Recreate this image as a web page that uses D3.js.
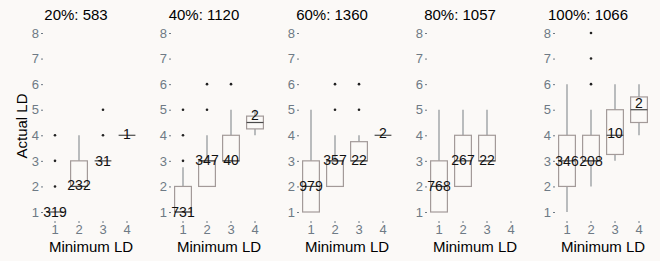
<!DOCTYPE html>
<html>
<head>
<meta charset="utf-8">
<script src="https://cdn.jsdelivr.net/npm/d3@7"></script>
<style>
  body { margin: 0; background: #fbf9f7; }
  svg { display: block; font-family: "Liberation Sans", Arial, sans-serif; }
</style>
</head>
<body>
<div id="my_dataviz"></div>
<script>
// panel titles and category / tick values
var panelTitles = ["20%: 583", "40%: 1120", "60%: 1360", "80%: 1057", "100%: 1066"];
var categories = [1, 2, 3, 4];
var yTicks = [1, 2, 3, 4, 5, 6, 7, 8];

// box statistics, one row per panel, one entry per category (null = no box)
var whiskerLow  = [[1, 2, 3, 4], [1, 2, 3, 4],    [1, 2, 3, 4],    [1, 2, 3, null], [1, 2, 3, 4]];
var q1          = [[1, 2, 3, 4], [1, 2, 3, 4.25], [1, 2, 3, 4],    [1, 2, 3, null], [2, 3, 3.25, 4.5]];
var median      = [[1, 2, 3, 4], [1, 3, 3, 4.5],  [2, 3, 3, 4],    [2, 3, 3, null], [3, 3, 4, 5]];
var q3          = [[1, 3, 3, 4], [2, 3, 4, 4.75], [3, 3, 3.75, 4], [3, 4, 4, null], [4, 4, 5, 5.5]];
var whiskerHigh = [[1, 4, 3, 4], [2.75, 4, 5, 5], [5, 4, 4, 4],    [5, 5, 5, null], [6, 5, 6, 6]];
var counts      = [[319, 232, 31, 1], [731, 347, 40, 2], [979, 357, 22, 2], [768, 267, 22, null], [346, 208, 10, 2]];
var labelAt     = [[1, 2.05, 3, 4.05], [1, 3.05, 3.05, 4.8], [2, 3.05, 3.05, 4.1], [2, 3.05, 3.05, null], [3, 3, 4.1, 5.25]];
var outliers    = [
    [[2, 3, 4], [], [4, 5], []],
    [[3, 4, 5], [5, 6], [6], []],
    [[], [5, 6], [5, 6], []],
    [[], [], [], []],
    [[], [6, 7, 8], [], []]
];

var width = 660, height = 261;
var panelStep = 128, panelLeft = 43, bandWidth = 96;
var tickColor = "#6e7a85";

var svg = d3.select("#my_dataviz")
    .append("svg")
    .attr("width", width)
    .attr("height", height);

var y = d3.scaleLinear()
    .domain([1, 8])
    .range([212, 33]);

// y axis title
svg.append("text")
    .attr("transform", "translate(21,126)rotate(-90)")
    .attr("text-anchor", "middle")
    .attr("dominant-baseline", "central")
    .style("font-size", "15px")
    .text("Actual LD");

panelTitles.forEach(function(title, p) {
    var x0 = panelLeft + p * panelStep;
    var x = d3.scaleBand()
        .domain(categories)
        .range([x0, x0 + bandWidth]);
    var g = svg.append("g");
    var axisX = x0;
    var bw = x.bandwidth() * 0.7;
    var cx = function(c) { return x(c) + x.bandwidth() / 2; };

    // title
    g.append("text")
        .attr("x", x0 + 33)
        .attr("y", 14)
        .attr("text-anchor", "middle")
        .attr("dominant-baseline", "central")
        .style("font-size", "15px")
        .text(title);

    // Y axis
    var yAxis = g.append("g")
        .attr("transform", "translate(" + axisX + ",0)")
        .call(d3.axisLeft(y).tickValues(yTicks).tickSize(2).tickPadding(2).tickFormat(d3.format("d")));
    yAxis.select(".domain").remove();
    yAxis.selectAll("line").attr("stroke", tickColor);
    yAxis.selectAll("text").attr("fill", tickColor).style("font-size", "13px")
        .style("font-family", "'Liberation Sans', Arial, sans-serif");

    // X axis
    var xAxis = g.append("g")
        .attr("transform", "translate(0,221)")
        .call(d3.axisBottom(x).tickSize(2).tickPadding(2));
    xAxis.select(".domain").remove();
    xAxis.selectAll("line").attr("stroke", tickColor);
    xAxis.selectAll("text").attr("fill", tickColor).style("font-size", "13px")
        .style("font-family", "'Liberation Sans', Arial, sans-serif");

    g.append("text")
        .attr("x", x0 + bandWidth / 2)
        .attr("y", 246)
        .attr("text-anchor", "middle")
        .attr("dominant-baseline", "central")
        .style("font-size", "15px")
        .text("Minimum LD");

    categories.forEach(function(c, i) {
        if (median[p][i] === null) return;
        var xc = cx(c);
        // whiskers
        g.append("line")
            .attr("x1", xc).attr("x2", xc)
            .attr("y1", y(q3[p][i])).attr("y2", y(whiskerHigh[p][i]))
            .attr("stroke", "#8e9296").attr("stroke-width", 1.2);
        g.append("line")
            .attr("x1", xc).attr("x2", xc)
            .attr("y1", y(q1[p][i])).attr("y2", y(whiskerLow[p][i]))
            .attr("stroke", "#8e9296").attr("stroke-width", 1.2);
        // box
        g.append("rect")
            .attr("x", xc - bw / 2)
            .attr("width", bw)
            .attr("y", y(q3[p][i]))
            .attr("height", y(q1[p][i]) - y(q3[p][i]))
            .attr("fill", "none")
            .attr("stroke", "#a39a99")
            .attr("stroke-width", 1.2);
        // median
        g.append("line")
            .attr("x1", xc - bw / 2).attr("x2", xc + bw / 2)
            .attr("y1", y(median[p][i])).attr("y2", y(median[p][i]))
            .attr("stroke", "#4a4a4a").attr("stroke-width", 1.2);
        // outliers
        g.selectAll(null)
            .data(outliers[p][i])
            .enter()
            .append("circle")
            .attr("cx", xc)
            .attr("cy", function(d) { return y(d); })
            .attr("r", 1.3)
            .attr("fill", "#222");
        // count label
        g.append("text")
            .attr("x", xc)
            .attr("y", y(labelAt[p][i]))
            .attr("text-anchor", "middle")
            .attr("dominant-baseline", "central")
            .style("font-size", "14px")
            .attr("fill", "#111")
            .text(counts[p][i]);
    });
});
</script>
</body>
</html>
